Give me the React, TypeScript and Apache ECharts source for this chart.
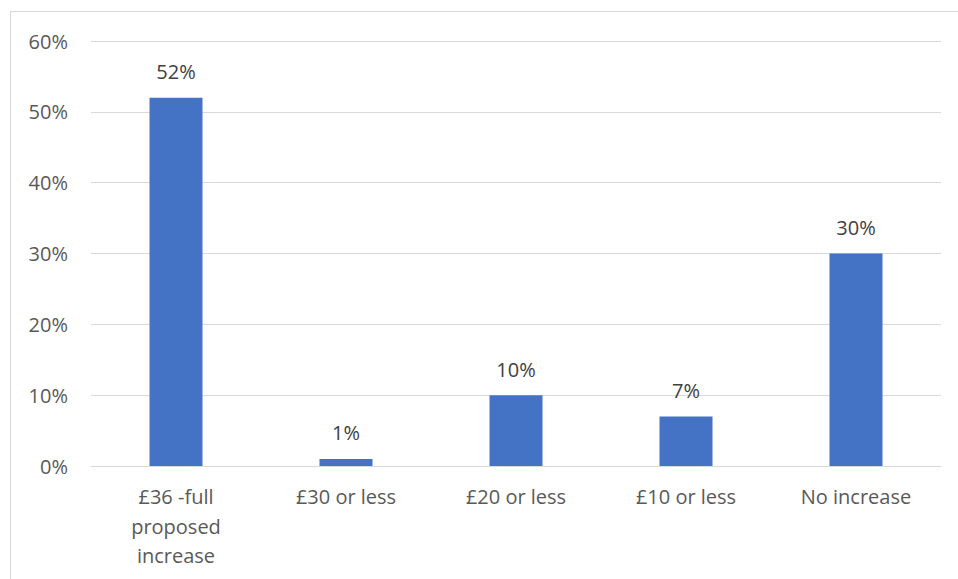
import React, { useEffect, useRef } from "react";
import * as echarts from "echarts";

const categories = ["£36 -full\nproposed\nincrease", "£30 or less", "£20 or less", "£10 or less", "No increase"];
const values = [52, 1, 10, 7, 30];
const yTicks = [0, 10, 20, 30, 40, 50, 60];

export default function App() {
  const ref = useRef<HTMLDivElement>(null);
  useEffect(() => {
    if (!ref.current) return;
    const chart = echarts.init(ref.current, null, { renderer: "svg" });
    const font = "'Open Sans', 'Noto Sans', sans-serif";
    chart.setOption({
      animation: false,
      backgroundColor: "#ffffff",
      textStyle: { fontFamily: font },
      grid: { left: 91, right: 17, top: 41, bottom: 113, containLabel: false },
      graphic: [
        { type: "line", shape: { x1: 10.5, y1: 11, x2: 10.5, y2: 579 }, style: { stroke: "#d9d9d9", lineWidth: 1 } },
        { type: "line", shape: { x1: 10, y1: 11.5, x2: 958, y2: 11.5 }, style: { stroke: "#d9d9d9", lineWidth: 1 } },
      ],
      xAxis: {
        type: "category",
        data: categories,
        axisLine: { show: true, lineStyle: { color: "#d9d9d9", width: 1 } },
        axisTick: { show: false },
        axisLabel: { color: "#595959", fontSize: 20, fontFamily: font, margin: 16, lineHeight: 29.5, interval: 0 },
      },
      yAxis: {
        type: "value",
        min: yTicks[0],
        max: yTicks[yTicks.length - 1],
        interval: 10,
        axisLine: { show: false },
        axisTick: { show: false },
        splitLine: { lineStyle: { color: "#d9d9d9", width: 1 } },
        axisLabel: { color: "#595959", fontSize: 20, fontFamily: font, margin: 23, formatter: "{value}%" },
      },
      series: [
        {
          type: "bar",
          data: values,
          barWidth: 53,
          itemStyle: { color: "#4472C4" },
          label: {
            show: true,
            position: "top",
            distance: 16,
            color: "#404040",
            fontSize: 20,
            fontFamily: font,
            formatter: "{c}%",
          },
        },
      ],
    });
    return () => chart.dispose();
  }, []);
  return <div ref={ref} style={{ position: "fixed", left: 0, top: 0, width: 958, height: 579 }} />;
}
